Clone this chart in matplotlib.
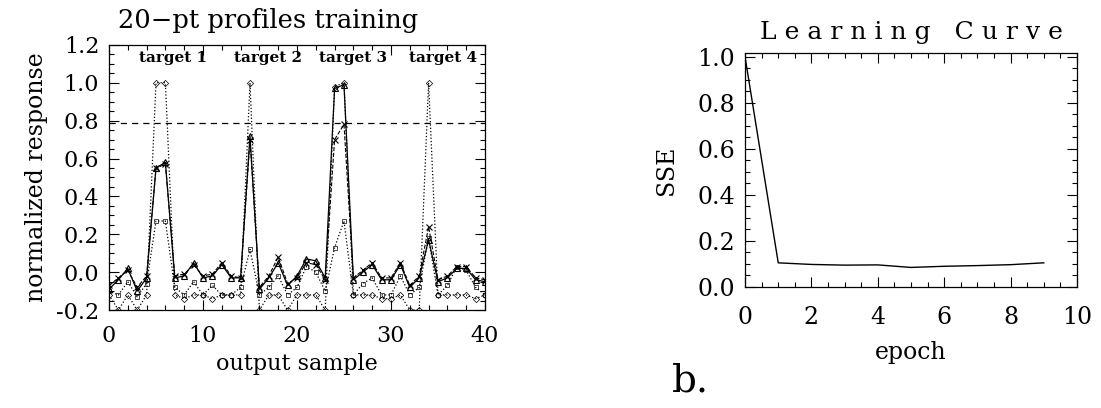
import numpy as np
import matplotlib
matplotlib.use('Agg')
import matplotlib.pyplot as plt
from matplotlib.ticker import MultipleLocator

plt.rcParams['font.family'] = 'DejaVu Serif'

# left panel: responses at each output sample
sample = list(range(41))
target = [-0.12, -0.2, -0.12, -0.2, -0.12, 1.0, 1.0, -0.12, -0.14, -0.12,
          -0.12, -0.14, -0.12, -0.12, -0.12, 1.0, -0.2, -0.12, -0.12, -0.2,
          -0.12, -0.12, -0.12, -0.2, 0.98, 1.0, -0.12, -0.12, -0.12, -0.14,
          -0.14, -0.12, -0.2, -0.2, 1.0, -0.12, -0.12, -0.12, -0.12, -0.14,
          -0.12]
out_a = [-0.09, -0.04, 0.02, -0.10, -0.03, 0.55, 0.58, -0.03, -0.02, 0.05,
         -0.03, -0.02, 0.04, -0.03, -0.03, 0.72, -0.09, -0.03, 0.05, -0.07,
         -0.02, 0.07, 0.06, -0.03, 0.97, 0.99, -0.04, 0.0, 0.04, -0.04,
         -0.04, 0.04, -0.08, -0.03, 0.17, -0.05, -0.03, 0.02, 0.02, -0.04,
         -0.05]
out_b = [-0.07, -0.03, 0.01, -0.08, -0.02, 0.55, 0.57, -0.02, -0.01, 0.04,
         -0.02, -0.01, 0.05, -0.02, -0.03, 0.70, -0.08, -0.02, 0.08, -0.06,
         -0.03, 0.05, 0.04, -0.04, 0.70, 0.78, -0.03, 0.01, 0.05, -0.03,
         -0.03, 0.05, -0.07, -0.02, 0.24, -0.04, -0.02, 0.03, 0.03, -0.03,
         -0.04]
out_c = [-0.10, -0.12, -0.05, -0.13, -0.06, 0.27, 0.27, -0.08, -0.12, -0.05,
         -0.12, -0.07, -0.12, -0.12, -0.08, 0.12, -0.12, -0.08, -0.02, -0.12,
         -0.08, 0.03, 0.0, -0.10, 0.13, 0.27, -0.12, -0.06, -0.03, -0.12,
         -0.12, -0.02, -0.12, -0.08, 0.18, -0.12, -0.07, 0.03, 0.01, -0.08,
         -0.12]
threshold = 0.79
target_names = ['target 1', 'target 2', 'target 3', 'target 4']
target_x = [6.8, 16.9, 26.0, 35.5]

# right panel: learning curve
epoch = list(range(10))
sse = [1.0, 0.105, 0.098, 0.095, 0.096, 0.085, 0.09, 0.093, 0.097, 0.105]

fig = plt.figure(figsize=(11.01, 4.08), dpi=100)

def idl_axes(ax, size):
    ax.tick_params(which='both', direction='in', top=True, right=True,
                   labelsize=size, width=0.8)
    ax.tick_params(which='major', length=7)
    ax.tick_params(which='minor', length=3.5)
    ax.tick_params(axis='y', pad=7)
    for s in ax.spines.values():
        s.set_linewidth(0.9)

ax1 = fig.add_axes([0.099, 0.240, 0.3415, 0.650])
ax1.plot(sample, target, ':', color='black', lw=0.9, marker='D', ms=3.2,
         mfc='none', mew=0.5)
ax1.plot(sample, out_c, ':', color='black', lw=0.9, marker='s', ms=3.2,
         mfc='none', mew=0.5)
ax1.plot(sample, out_b, '--', color='black', lw=0.8, marker='x', ms=4,
         mew=0.8)
ax1.plot(sample, out_a, '-', color='black', lw=0.9, marker='^', ms=4,
         mfc='none', mew=0.8)
ax1.axhline(threshold, color='black', lw=0.9, ls=(0, (5, 4)))
for name, xt in zip(target_names, target_x):
    ax1.text(xt, 1.13, name, ha='center', va='center', fontsize=11,
             fontweight='bold')
ax1.set_xlim(0, 40)
ax1.set_ylim(-0.2, 1.2)
ax1.xaxis.set_major_locator(MultipleLocator(10))
ax1.xaxis.set_minor_locator(MultipleLocator(2))
ax1.yaxis.set_major_locator(MultipleLocator(0.2))
ax1.yaxis.set_minor_locator(MultipleLocator(0.05))
ax1.yaxis.set_major_formatter(matplotlib.ticker.FormatStrFormatter('%.1f'))
idl_axes(ax1, 16)
ax1.tick_params(axis='x', pad=11)
ax1.text(0.423, 1.045, '20\u2212pt profiles training', transform=ax1.transAxes,
         fontsize=18.5, ha='center', va='bottom')
ax1.set_xlabel('output sample', fontsize=16, labelpad=4)
ax1.set_ylabel('normalized response', fontsize=17, labelpad=6)

ax2 = fig.add_axes([0.6767, 0.2966, 0.3015, 0.5735])
ax2.plot(epoch, sse, '-', color='black', lw=1.0)
ax2.set_xlim(0, 10)
ax2.set_ylim(0, 1.017)
ax2.xaxis.set_major_locator(MultipleLocator(2))
ax2.xaxis.set_minor_locator(MultipleLocator(0.5))
ax2.yaxis.set_major_locator(MultipleLocator(0.2))
ax2.yaxis.set_minor_locator(MultipleLocator(0.05))
ax2.yaxis.set_major_formatter(matplotlib.ticker.FormatStrFormatter('%.1f'))
idl_axes(ax2, 17)
ax2.tick_params(axis='x', pad=14)
ax2.set_title('L e a r n i n g   C u r v e', fontsize=18, pad=10)
ax2.set_xlabel('epoch', fontsize=17, labelpad=8)
ax2.set_ylabel('SSE', fontsize=17, labelpad=14)

fig.text(0.627, 0.02, 'b.', fontsize=28, ha='center', va='bottom')

fig.savefig('out.png', dpi=100)
